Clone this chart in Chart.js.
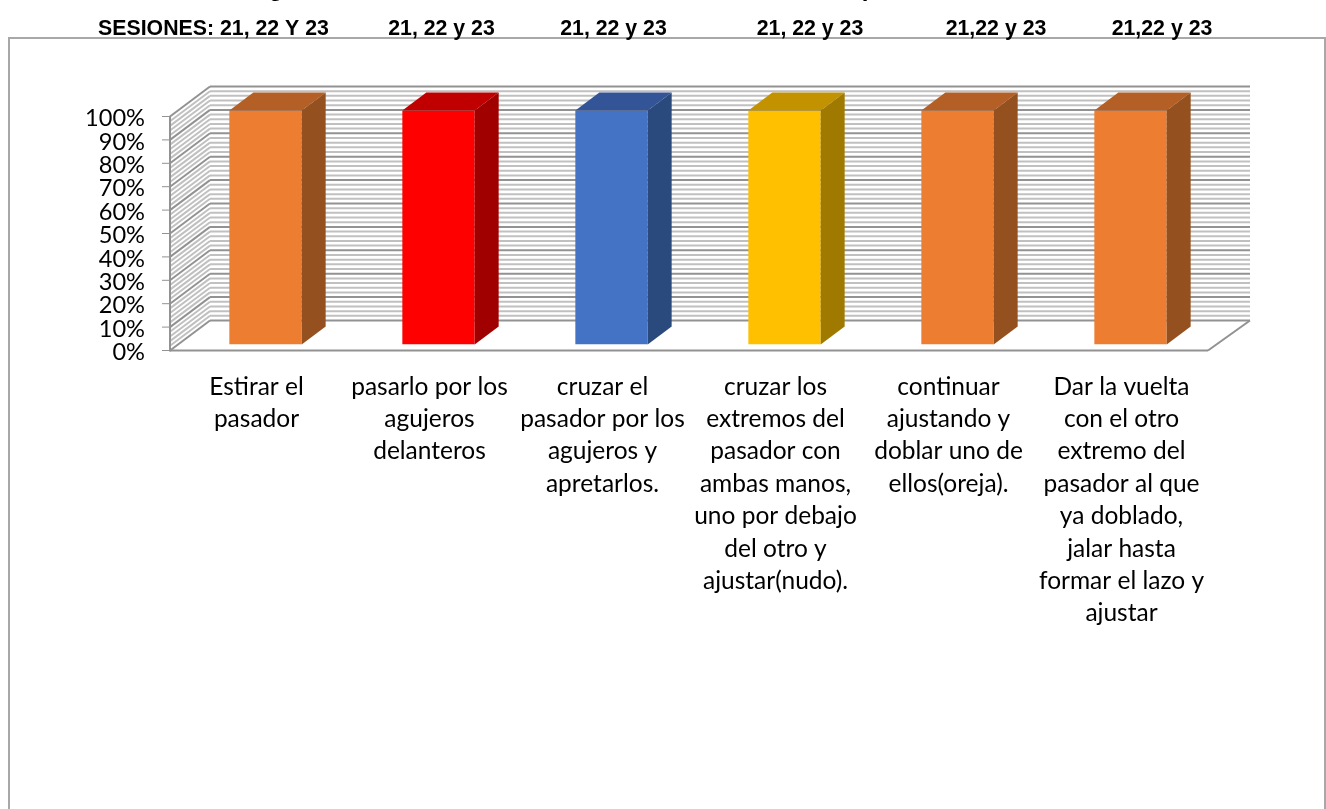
<!DOCTYPE html>
<html>
<head>
<meta charset="utf-8">
<style>
  html, body { margin: 0; padding: 0; background: #fff; overflow: hidden; }
  #wrap { position: absolute; left: 0; top: 0; width: 1326px; height: 809px; }
</style>
<script src="https://cdn.jsdelivr.net/npm/chart.js@4/dist/chart.umd.min.js"></script>
</head>
<body>
<div id="wrap"><canvas id="chart" width="1326" height="809"></canvas></div>
<script>
const steps = [
    ['Estirar el', 'pasador'],
    ['pasarlo por los', 'agujeros', 'delanteros'],
    ['cruzar el', 'pasador por los', 'agujeros y', 'apretarlos.'],
    ['cruzar los', 'extremos del', 'pasador con', 'ambas manos,', 'uno por debajo', 'del otro y', 'ajustar(nudo).'],
    ['continuar', 'ajustando y', 'doblar uno de', 'ellos(oreja).'],
    ['Dar la vuelta', 'con el otro', 'extremo del', 'pasador al que', 'ya doblado,', 'jalar hasta', 'formar el lazo y', 'ajustar']
];
const percent = [100, 100, 100, 100, 100, 100];
const sessions = ['SESIONES: 21, 22 Y 23', '21, 22 y 23', '21, 22 y 23', '21, 22 y 23', '21,22 y 23', '21,22 y 23'];
const sessionX = [213.5, 441.5, 613.5, 810, 996, 1162];
// bottoms of the heading line above the frame, cut by the page top
const headingGlyphs = ['g', 'p'];
const headingX = [276, 869];
const frontColors = ['#ED7D31', '#FF0000', '#4472C4', '#FFC000', '#ED7D31', '#ED7D31'];
const topColors = ['#B45F25', '#C00000', '#335597', '#C29200', '#B45F25', '#B45F25'];
const sideColors = ['#94501E', '#A00000', '#2A4A7E', '#A07A00', '#94501E', '#94501E'];

// box depth of the 3d plot, and where the columns sit inside it
const depthX = 40, depthY = -30;
const floorRightX = 42;
const barShiftX = 9, barShiftY = -6;
const barDepthX = 24, barDepthY = -18;
const minorStep = 2;

function line(ctx, x1, y1, x2, y2) {
    ctx.beginPath();
    ctx.moveTo(x1, y1);
    ctx.lineTo(x2, y2);
    ctx.stroke();
}

function poly(ctx, pts, color) {
    ctx.fillStyle = color;
    ctx.beginPath();
    pts.forEach((p, i) => i ? ctx.lineTo(p[0], p[1]) : ctx.moveTo(p[0], p[1]));
    ctx.closePath();
    ctx.fill();
}

const box3d = {
    id: 'box3d',
    beforeDatasetsDraw(chart) {
        const ctx = chart.ctx, a = chart.chartArea, y = chart.scales.y;
        const backRight = a.right + floorRightX;
        ctx.save();
        // minor lines first so the 10% lines stay on top
        for (let v = 0; v <= 100; v += minorStep) {
            if (v % 10 === 0) continue;
            const py = y.getPixelForValue(v);
            ctx.strokeStyle = '#c0c0c0';
            ctx.lineWidth = 2;
            line(ctx, a.left + depthX, py + depthY, backRight, py + depthY);
            line(ctx, a.left, py, a.left + depthX, py + depthY);
        }
        for (let v = 0; v <= 100; v += 10) {
            const py = y.getPixelForValue(v);
            ctx.strokeStyle = '#929292';
            ctx.lineWidth = 2;
            line(ctx, a.left + depthX, py + depthY, backRight, py + depthY);
            line(ctx, a.left, py, a.left + depthX, py + depthY);
            ctx.lineWidth = 1;
            line(ctx, a.left - 8, py, a.left, py);
        }
        // floor edges
        ctx.strokeStyle = '#929292';
        ctx.lineWidth = 2;
        const base = y.getPixelForValue(0), top = y.getPixelForValue(100);
        line(ctx, a.left, base, a.right, base);
        line(ctx, a.right, base, backRight, base + depthY);
        line(ctx, a.left, top, a.left, base + 1);
        ctx.restore();
    },
    beforeDatasetDraw(chart) {
        chart.ctx.save();
        chart.ctx.translate(barShiftX, barShiftY);
    },
    afterDatasetDraw(chart, args) {
        const ctx = chart.ctx;
        chart.getDatasetMeta(args.index).data.forEach((bar, i) => {
            const r = bar.x + bar.width / 2, l = bar.x - bar.width / 2;
            poly(ctx, [[l, bar.y], [l + barDepthX, bar.y + barDepthY], [r + barDepthX, bar.y + barDepthY], [r, bar.y]], topColors[i]);
            poly(ctx, [[r, bar.y], [r + barDepthX, bar.y + barDepthY], [r + barDepthX, bar.base + barDepthY], [r, bar.base]], sideColors[i]);
        });
        ctx.restore();
    },
    afterDraw(chart) {
        const ctx = chart.ctx;
        ctx.save();
        // outer frame, open at the bottom
        ctx.strokeStyle = '#a8a8a8';
        ctx.lineWidth = 2;
        ctx.beginPath();
        ctx.moveTo(9, 809);
        ctx.lineTo(9, 38);
        ctx.lineTo(1325, 38);
        ctx.lineTo(1325, 809);
        ctx.stroke();
        // session header row
        ctx.fillStyle = '#000';
        ctx.font = 'bold 21.3px "Liberation Sans"';
        ctx.textAlign = 'center';
        ctx.textBaseline = 'alphabetic';
        sessions.forEach((s, i) => ctx.fillText(s, sessionX[i], 35));
        ctx.font = 'bold 24px "Liberation Sans"';
        headingGlyphs.forEach((s, i) => ctx.fillText(s, headingX[i], -4));
        ctx.restore();
    }
};

new Chart(document.getElementById('chart').getContext('2d'), {
    type: 'bar',
    data: {
        labels: steps,
        datasets: [{
            data: percent,
            backgroundColor: frontColors,
            borderWidth: 0,
            categoryPercentage: 1,
            barPercentage: 0.418
        }]
    },
    options: {
        responsive: false,
        animation: false,
        layout: { padding: { left: 0, right: 118, top: 116.5, bottom: 0 } },
        plugins: { legend: { display: false }, tooltip: { enabled: false } },
        scales: {
            x: {
                afterFit(s) { s.height = 458.5; },
                border: { display: false },
                grid: { display: false, drawTicks: false },
                ticks: {
                    autoSkip: false,
                    maxRotation: 0,
                    minRotation: 0,
                    padding: 20,
                    color: '#000',
                    font: { family: 'Lato', size: 24.5, lineHeight: 1.322 }
                }
            },
            y: {
                min: 0,
                max: 100,
                afterFit(s) { s.width = 170; },
                border: { display: false },
                grid: { display: false, drawTicks: false },
                ticks: {
                    stepSize: 10,
                    autoSkip: false,
                    padding: 25,
                    color: '#000',
                    // the empty first line nudges the text down by half a line height
                    callback: v => ['', v + '%'],
                    font: { family: 'Lato', size: 23.6, lineHeight: '4px' }
                }
            }
        }
    },
    plugins: [box3d]
});
</script>
</body>
</html>
